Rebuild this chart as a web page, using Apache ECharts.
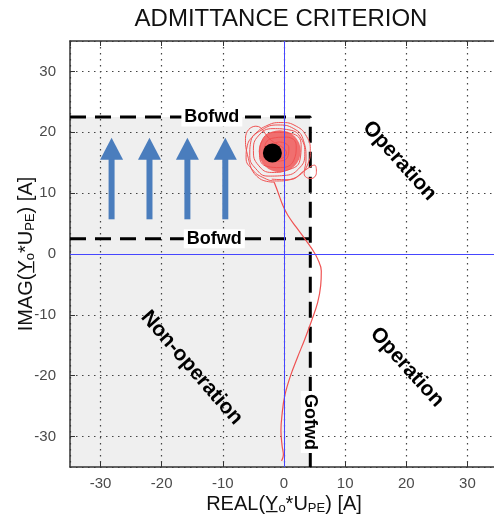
<!DOCTYPE html>
<html lang="en">
  <head>
    <meta charset="UTF-8" />
    <script src="https://cdn.jsdelivr.net/npm/echarts@6/dist/echarts.min.js"></script>
    <title>Admittance criterion</title>
    <style>
      html,
      body {
        margin: 0;
        padding: 0;
        background: #fff;
      }
      #app {
        width: 494px;
        height: 516px;
      }
    </style>
  </head>
  <body>
    <div id="app"></div>

    <script>
      // axis extent (A)
      const axisMin = -35;
      const axisMax = 35;

      // protection boundaries (A)
      const bofwdUpper = 22.5;
      const bofwdLower = 2.5;
      const gofwd = 4.3;

      // blue arrows: x positions, from / tip on the imag axis
      const arrowX = [-28.2, -22, -15.8, -9.6];
      const arrowFrom = 5.7;
      const arrowTip = 19.1;

      // measured admittance trajectory
      const faultPoint = [-1.9, 16.6];
      const cloudCore = [[-0.7, 16.9]];
      const cloudPath = [
        [-2.0, 12.3], [0.5, 12.2], [2.6, 13.0], [3.9, 14.8], [4.3, 17.0], [3.7, 19.3],
        [2.0, 21.0], [-0.5, 21.6], [-3.0, 21.0], [-4.8, 19.6], [-6.0, 17.8], [-6.2, 15.8],
        [-5.2, 13.9], [-3.5, 12.6], [-1.2, 12.0], [1.5, 12.4], [3.2, 13.6], [5.0, 14.6],
        [5.3, 13.4], [4.4, 12.4], [3.3, 13.2], [3.6, 15.6], [3.2, 18.6], [1.6, 20.6],
        [-1.0, 21.2], [-3.6, 20.4], [-5.4, 18.6], [-5.6, 16.2], [-4.6, 14.0], [-2.6, 12.8],
        [0.0, 12.9], [2.4, 14.0], [3.4, 16.4], [2.8, 19.0], [0.8, 20.4], [-1.8, 20.6],
        [-4.2, 19.4], [-5.0, 17.0], [-4.2, 14.6], [-2.0, 13.4], [0.6, 13.8], [2.6, 15.4],
        [2.8, 18.0], [1.2, 19.8], [-1.4, 20.0], [-3.6, 18.6], [-4.0, 16.2], [-2.8, 14.4],
        [-0.6, 14.2], [1.6, 15.4], [2.0, 17.8], [0.4, 19.2], [-2.0, 19.0], [-3.2, 17.0],
        [-2.2, 15.2], [0.0, 15.4], [0.8, 17.4], [-0.8, 18.4], [-2.2, 17.0], [-1.0, 15.6],
        [0.4, 16.6], [-0.6, 17.8], [-2.0, 18.6], [-4.6, 21.0], [-6.3, 19.0], [-6.0, 16.4],
        [-4.0, 12.4], [-1.6, 11.8],
      ];
      const tailPath = [
        [-1.6, 11.8], [-1.0, 10.2], [-0.2, 8.0], [0.6, 6.4], [2.0, 4.4], [3.4, 2.5],
        [4.6, 0.8], [5.5, -0.8], [6.1, -2.8], [6.0, -5.2], [5.5, -8.0], [4.5, -11.0],
        [3.4, -14.0], [2.2, -17.0], [1.0, -20.2], [0.1, -23.4], [-0.3, -26.2], [-0.5, -29.0],
        [-0.3, -31.6], [-0.1, -33.0], [-0.4, -34.0],
      ];

      // text inside the plane
      const boundaryLabels = [
        ["Bofwd", -11.8, bofwdUpper, 0],
        ["Bofwd", -11.4, bofwdLower, 0],
        ["Gofwd", gofwd, -27.6, -90],
      ];
      const regionLabels = [
        ["Operation", 18.9, 15.3, -48],
        ["Operation", 20.1, -18.6, -48],
        ["Non-operation", -15.1, -18.7, -49],
      ];

      const font = "Arial, 'Liberation Sans', sans-serif";
      const red = "#ef5252";
      const arrowColor = "#4a7dbd";

      const nameRich = {
        u: { fontSize: 20, fontFamily: font, color: "#111" },
        s: { fontSize: 13, fontFamily: font, color: "#111", padding: [9, 0, 0, 0] },
      };

      const axisCommon = {
        type: "value",
        min: axisMin,
        max: axisMax,
        splitNumber: 7,
        axisLine: { show: true, onZero: false, lineStyle: { color: "#333", width: 1.5 } },
        axisTick: { show: true, inside: true, length: 5, lineStyle: { color: "#333" } },
        axisLabel: {
          color: "#4a4a4a",
          fontSize: 15,
          fontFamily: font,
          showMinLabel: false,
          showMaxLabel: false,
        },
        splitLine: {
          show: true,
          lineStyle: { color: "#444", width: 1.2, type: [1.5, 4.5] },
        },
      };

      // text placed at data coordinates
      function textSeries(name, rows, style) {
        return {
          name,
          type: "custom",
          silent: true,
          z: 10,
          data: rows,
          encode: { x: 1, y: 2 },
          renderItem(params, api) {
            const row = rows[params.dataIndex];
            const p = api.coord([row[1], row[2]]);
            return {
              type: "text",
              x: p[0],
              y: p[1],
              rotation: (row[3] * Math.PI) / 180,
              style: {
                text: row[0],
                align: "center",
                verticalAlign: "middle",
                fill: "#000",
                ...style,
              },
            };
          },
        };
      }

      const echart = echarts.init(document.getElementById("app"));

      echart.setOption({
        animation: false,
        graphic: [
          {
            type: "text",
            x: 281,
            y: 7,
            style: {
              text: "ADMITTANCE CRITERION",
              fill: "#111",
              font: "24px " + font,
              align: "center",
            },
          },
        ],
        grid: {
          left: 70,
          top: 41,
          right: -4,
          bottom: 49,
          containLabel: false,
          outerBoundsMode: "none",
        },
        xAxis: [
          {
            ...axisCommon,
            position: "bottom",
            axisLabel: { ...axisCommon.axisLabel, margin: 9 },
            name: "REAL({u|Y\u0332}{s|o}*U{s|PE}) [A]",
            nameLocation: "middle",
            nameGap: 26,
            nameMoveOverlap: false,
            nameTextStyle: { fontSize: 20, fontFamily: font, color: "#111", rich: nameRich },
          },
          {
            ...axisCommon,
            position: "top",
            axisLabel: { show: false },
            splitLine: { show: false },
          },
        ],
        yAxis: [
          {
            ...axisCommon,
            axisLabel: { ...axisCommon.axisLabel, margin: 14 },
            name: "IMAG({u|Y\u0332}{s|o}*U{s|PE}) [A]",
            nameLocation: "middle",
            nameGap: 33,
            nameMoveOverlap: false,
            nameTextStyle: { fontSize: 20, fontFamily: font, color: "#111", rich: nameRich },
          },
        ],
        series: [
          {
            // non-operation zone shading
            name: "zone",
            type: "custom",
            z: -1,
            silent: true,
            data: [[axisMin, axisMin, gofwd, bofwdUpper]],
            renderItem(params, api) {
              const p0 = api.coord([api.value(0), api.value(1)]);
              const p1 = api.coord([api.value(2), api.value(3)]);
              return {
                type: "rect",
                shape: { x: p0[0], y: p1[1], width: p1[0] - p0[0], height: p0[1] - p1[1] },
                style: { fill: "#efefef" },
              };
            },
          },
          {
            name: "Bofwd/Gofwd",
            type: "line",
            showSymbol: false,
            silent: true,
            lineStyle: { color: "#000", width: 3, type: [16, 9] },
            data: [
              [axisMin, bofwdUpper],
              [gofwd, bofwdUpper],
              [gofwd, axisMin],
            ],
          },
          {
            name: "Bofwd lower",
            type: "line",
            showSymbol: false,
            silent: true,
            lineStyle: { color: "#000", width: 3, type: [16, 9] },
            data: [
              [axisMin, bofwdLower],
              [gofwd, bofwdLower],
            ],
          },
          {
            name: "core",
            type: "scatter",
            silent: true,
            symbolSize: 42,
            itemStyle: { color: "#f05858", opacity: 0.85 },
            data: cloudCore,
          },
          {
            name: "cloud",
            type: "line",
            smooth: 0.5,
            showSymbol: false,
            silent: true,
            lineStyle: { color: red, width: 1 },
            data: cloudPath,
          },
          {
            name: "tail",
            type: "line",
            smooth: 0.4,
            showSymbol: false,
            silent: true,
            lineStyle: { color: red, width: 1.2 },
            data: tailPath,
          },
          {
            name: "axes",
            type: "line",
            data: [],
            silent: true,
            markLine: {
              silent: true,
              symbol: "none",
              label: { show: false },
              lineStyle: { color: "#4646ff", width: 1, type: "solid" },
              data: [{ xAxis: 0 }, { yAxis: 0 }],
            },
          },
          {
            name: "fault",
            type: "scatter",
            silent: true,
            z: 5,
            symbolSize: 19,
            itemStyle: { color: "#000", opacity: 1 },
            data: [faultPoint],
          },
          {
            name: "arrows",
            type: "custom",
            silent: true,
            data: arrowX.map((x) => [x, arrowFrom, arrowTip]),
            encode: { x: 0, y: [1, 2] },
            renderItem(params, api) {
              const base = api.coord([api.value(0), api.value(1)]);
              const tip = api.coord([api.value(0), api.value(2)]);
              const headH = 22;
              const headW = 23;
              const shaftW = 6;
              return {
                type: "group",
                children: [
                  {
                    type: "rect",
                    shape: {
                      x: base[0] - shaftW / 2,
                      y: tip[1] + headH - 1,
                      width: shaftW,
                      height: base[1] - tip[1] - headH + 1,
                    },
                    style: { fill: arrowColor },
                  },
                  {
                    type: "polygon",
                    shape: {
                      points: [
                        [tip[0], tip[1]],
                        [tip[0] - headW / 2, tip[1] + headH],
                        [tip[0] + headW / 2, tip[1] + headH],
                      ],
                    },
                    style: { fill: arrowColor },
                  },
                ],
              };
            },
          },
          textSeries("boundary labels", boundaryLabels, {
            font: "bold 18px " + font,
            backgroundColor: "#fff",
            padding: [1, 3, 0, 3],
          }),
          textSeries("region labels", regionLabels, {
            font: "bold 21px " + font,
          }),
        ],
      });
    </script>
  </body>
</html>
